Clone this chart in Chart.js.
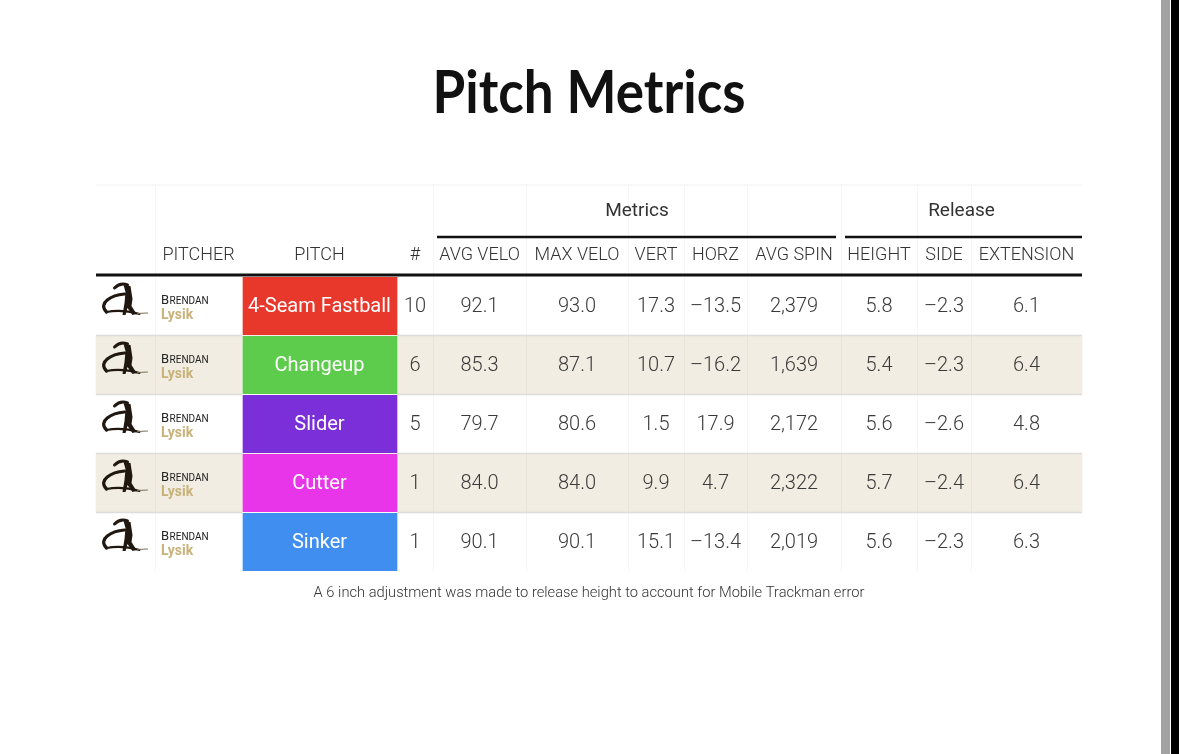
<!DOCTYPE html>
<html>
<head>
<meta charset="utf-8">
<script src="https://cdn.jsdelivr.net/npm/chart.js@4.4.1/dist/chart.umd.min.js"></script>
<style>
  html, body { margin: 0; padding: 0; background: #ffffff; overflow: hidden; }
  #wrap { width: 1179px; height: 754px; position: relative; }
  canvas { display: block; }
  #edgeDark { position: fixed; top: 0; right: 0; width: 8px; height: 100%; background: #000; }
</style>
</head>
<body>
<div id="wrap"><canvas id="c" width="1179" height="754"></canvas></div>
<div id="edgeDark"></div>
<script>
// ---------- DATA ----------
const titleText = 'Pitch Metrics';
const footnote = 'A 6 inch adjustment was made to release height to account for Mobile Trackman error';
const pitcherFirst = 'Brendan';
const pitcherLast = 'Lysik';
const pitches = ['4-Seam Fastball', 'Changeup', 'Slider', 'Cutter', 'Sinker'];
const counts = [10, 6, 5, 1, 1];
const avgVelo = [92.1, 85.3, 79.7, 84.0, 90.1];
const maxVelo = [93.0, 87.1, 80.6, 84.0, 90.1];
const vert = [17.3, 10.7, 1.5, 9.9, 15.1];
const horz = [-13.5, -16.2, 17.9, 4.7, -13.4];
const avgSpin = [2379, 1639, 2172, 2322, 2019];
const relHeight = [5.8, 5.4, 5.6, 5.7, 5.6];
const relSide = [-2.3, -2.3, -2.6, -2.4, -2.3];
const extension = [6.1, 6.4, 4.8, 6.4, 6.3];
const colHeaders = ['', 'PITCHER', 'PITCH', '#', 'AVG VELO', 'MAX VELO', 'VERT', 'HORZ', 'AVG SPIN', 'HEIGHT', 'SIDE', 'EXTENSION'];
const groupHeaders = ['Metrics', 'Release'];

// ---------- STYLE / LAYOUT ----------
const W = 1179, H = 754;
const pitchColors = ['#e8372b', '#5dcb4c', '#7b2fd8', '#e935ea', '#3f8ef0'];
const stripeColors = ['#ffffff', '#f1ede2'];
const colEdges = [96, 155, 242, 397, 433, 526, 628, 684, 747, 841, 917, 971, 1082];
const groupSpans = [[4, 8], [9, 11]];   // column index ranges for group headers
const ROW_H = 59, ROW0_CENTER = 306;     // pixel layout of body rows
const yMinUnits = -ROW0_CENTER / ROW_H;
const yMaxUnits = (H - ROW0_CENTER) / ROW_H;
const TITLE_ROW = (92 - ROW0_CENTER) / ROW_H;
const GROUP_ROW = (211 - ROW0_CENTER) / ROW_H;
const GROUP_LINE_ROW = (237 - ROW0_CENTER) / ROW_H;
const HEAD_ROW = (255 - ROW0_CENTER) / ROW_H;
const HEAD_LINE_ROW = (275 - ROW0_CENTER) / ROW_H;
const TABLE_TOP_ROW = (185 - ROW0_CENTER) / ROW_H;
const FOOT_ROW = (593 - ROW0_CENTER) / ROW_H;
const FONT = 'Roboto, "Noto Sans", sans-serif';

const numberCols = [
  { data: avgVelo, dec: 1 }, { data: maxVelo, dec: 1 }, { data: vert, dec: 1 },
  { data: horz, dec: 1 }, { data: avgSpin, dec: 0 }, { data: relHeight, dec: 1 },
  { data: relSide, dec: 1 }, { data: extension, dec: 1 }
];

function fmt(v, d) {
  const s = Math.abs(v).toLocaleString('en-US', { minimumFractionDigits: d, maximumFractionDigits: d });
  return (v < 0 ? '\u2013' : '') + s;
}

function drawLogo(ctx, cx, cy) {
  ctx.save();
  ctx.lineCap = 'round';
  ctx.lineJoin = 'round';
  ctx.strokeStyle = '#1f1710';
  ctx.fillStyle = '#1f1710';
  // head hook
  ctx.lineWidth = 3;
  ctx.beginPath();
  ctx.moveTo(cx - 7, cy - 13);
  ctx.quadraticCurveTo(cx - 1, cy - 19, cx + 6, cy - 16);
  ctx.stroke();
  // body
  ctx.beginPath();
  ctx.moveTo(cx + 2, cy - 16);
  ctx.lineTo(cx + 9, cy - 15);
  ctx.lineTo(cx + 11, cy - 2);
  ctx.lineTo(cx + 10, cy + 5);
  ctx.lineTo(cx + 15, cy + 13);
  ctx.lineTo(cx + 11, cy + 14);
  ctx.lineTo(cx + 6, cy + 7);
  ctx.lineTo(cx + 4, cy + 14);
  ctx.lineTo(cx + 1, cy + 14);
  ctx.lineTo(cx + 3, cy + 2);
  ctx.lineTo(cx + 4, cy - 9);
  ctx.closePath();
  ctx.fill();
  // swoosh
  ctx.lineWidth = 3.2;
  ctx.beginPath();
  ctx.moveTo(cx + 3, cy - 7);
  ctx.bezierCurveTo(cx - 10, cy - 6, cx - 24, cy + 2, cx - 15, cy + 11);
  ctx.stroke();
  // base line
  ctx.lineWidth = 2;
  ctx.beginPath();
  ctx.moveTo(cx - 15, cy + 11);
  ctx.quadraticCurveTo(cx, cy + 8, cx + 18, cy + 13);
  ctx.stroke();
  ctx.strokeStyle = '#7d6f55';
  ctx.lineWidth = 1.1;
  ctx.beginPath();
  ctx.moveTo(cx + 16, cy + 12.5);
  ctx.lineTo(cx + 26, cy + 12);
  ctx.stroke();
  ctx.restore();
}

const tablePlugin = {
  id: 'tablePlugin',
  beforeDatasetsDraw(chart) {
    const ctx = chart.ctx, xs = chart.scales.x, ys = chart.scales.y;
    const X = v => xs.getPixelForValue(v), Y = v => ys.getPixelForValue(v);
    ctx.save();
    ctx.strokeStyle = '#f2f2f2';
    ctx.lineWidth = 1;
    ctx.beginPath();
    ctx.moveTo(X(colEdges[0]), Y(TABLE_TOP_ROW));
    ctx.lineTo(X(colEdges[colEdges.length - 1]), Y(TABLE_TOP_ROW));
    ctx.stroke();
    ctx.restore();
  },
  afterDatasetsDraw(chart) {
    const ctx = chart.ctx, xs = chart.scales.x, ys = chart.scales.y;
    const X = v => xs.getPixelForValue(v), Y = v => ys.getPixelForValue(v);
    const left = X(colEdges[0]), right = X(colEdges[colEdges.length - 1]);
    const nRows = pitches.length;
    ctx.save();

    // faint vertical separators
    ctx.strokeStyle = 'rgba(0,0,0,0.035)';
    ctx.lineWidth = 1;
    for (let c = 1; c < colEdges.length - 1; c++) {
      if (c === 2 || c === 3) continue;
      ctx.beginPath();
      ctx.moveTo(Math.round(X(colEdges[c])) + 0.5, Y(TABLE_TOP_ROW));
      ctx.lineTo(Math.round(X(colEdges[c])) + 0.5, Y(nRows - 0.5));
      ctx.stroke();
    }

    // row separators
    ctx.strokeStyle = '#dcdcdc';
    ctx.lineWidth = 1.5;
    for (let r = 1; r < nRows; r++) {
      const y = Y(r - 0.5);
      ctx.beginPath();
      ctx.moveTo(left, y);
      ctx.lineTo(X(colEdges[2]), y);
      ctx.moveTo(X(colEdges[3]), y);
      ctx.lineTo(right, y);
      ctx.stroke();
    }

    // group header lines
    ctx.strokeStyle = '#111';
    ctx.lineWidth = 2.6;
    groupSpans.forEach((g, i) => {
      const x0 = X(colEdges[g[0]]) + 4;
      const x1 = i === groupSpans.length - 1 ? X(colEdges[g[1] + 1]) : X(colEdges[g[1] + 1]) - 5;
      ctx.beginPath();
      ctx.moveTo(x0, Y(GROUP_LINE_ROW));
      ctx.lineTo(x1, Y(GROUP_LINE_ROW));
      ctx.stroke();
    });
    ctx.lineWidth = 2.8;
    ctx.beginPath();
    ctx.moveTo(left, Y(HEAD_LINE_ROW));
    ctx.lineTo(right, Y(HEAD_LINE_ROW));
    ctx.stroke();

    // group header text
    ctx.fillStyle = '#333';
    ctx.textAlign = 'center';
    ctx.textBaseline = 'middle';
    ctx.font = '400 19px ' + FONT;
    groupSpans.forEach((g, i) => {
      const cx = (X(colEdges[g[0]]) + X(colEdges[g[1] + 1])) / 2;
      ctx.fillText(groupHeaders[i], cx, Y(GROUP_ROW));
    });

    // column headers
    ctx.font = '300 18px ' + FONT;
    ctx.fillStyle = '#333';
    colHeaders.forEach((h, c) => {
      if (!h) return;
      const cx = (X(colEdges[c]) + X(colEdges[c + 1])) / 2;
      ctx.fillText(h, cx, Y(HEAD_ROW));
    });

    // body
    for (let r = 0; r < nRows; r++) {
      const cy = Y(r);
      drawLogo(ctx, (X(colEdges[0]) + X(colEdges[1])) / 2 - 4, cy - 5);
      const px = X(colEdges[1]) + 6;
      ctx.textAlign = 'left';
      ctx.textBaseline = 'alphabetic';
      ctx.fillStyle = '#222';
      ctx.font = '400 13px ' + FONT;
      const first = pitcherFirst.charAt(0).toUpperCase();
      ctx.fillText(first, px, cy - 2.5);
      const fw = ctx.measureText(first).width;
      ctx.font = '400 10px ' + FONT;
      ctx.fillText(pitcherFirst.slice(1).toUpperCase(), px + fw + 0.5, cy - 2.5);
      ctx.font = '700 14px ' + FONT;
      ctx.fillStyle = '#c8b27a';
      ctx.fillText(pitcherLast, px, cy + 13);

      ctx.textAlign = 'center';
      ctx.textBaseline = 'middle';
      ctx.fillStyle = '#ffffff';
      ctx.font = '400 20px ' + FONT;
      ctx.fillText(pitches[r], (X(colEdges[2]) + X(colEdges[3])) / 2, cy + 1);
      ctx.fillStyle = '#3a3a3a';
      ctx.font = '300 20px ' + FONT;
      ctx.fillText(String(counts[r]), (X(colEdges[3]) + X(colEdges[4])) / 2, cy + 1);
      numberCols.forEach((col, k) => {
        const c = 4 + k;
        ctx.fillText(fmt(col.data[r], col.dec), (X(colEdges[c]) + X(colEdges[c + 1])) / 2, cy + 1);
      });
    }

    // footnote
    ctx.fillStyle = '#333';
    ctx.font = '300 14.7px ' + FONT;
    ctx.textAlign = 'center';
    ctx.textBaseline = 'middle';
    ctx.fillText(footnote, (left + right) / 2, Y(FOOT_ROW));

    ctx.restore();
  },
  afterDraw(chart) {
    const ctx = chart.ctx, xs = chart.scales.x, ys = chart.scales.y;
    const X = v => xs.getPixelForValue(v), Y = v => ys.getPixelForValue(v);
    ctx.save();
    ctx.fillStyle = '#111';
    ctx.font = '700 60px Lato, "Open Sans", sans-serif';
    ctx.textBaseline = 'alphabetic';
    ctx.textAlign = 'center';
    const tw = ctx.measureText(titleText).width;
    const target = 313;
    const sx = Math.min(1, target / tw);
    const tx = (X(colEdges[0]) + X(colEdges[colEdges.length - 1])) / 2;
    ctx.translate(tx, Y(TITLE_ROW) + 21);
    ctx.scale(sx, 1);
    ctx.fillText(titleText, 0, 0);
    ctx.restore();

    ctx.save();
    ctx.fillStyle = '#a2a2a2';
    ctx.fillRect(X(1161), 0, X(1170) - X(1161), H);
    ctx.fillStyle = '#000';
    ctx.fillRect(X(1171), 0, X(W) - X(1171) + 1, H);
    ctx.restore();
  }
};

const rowIdx = pitches.map((_, i) => i);

new Chart(document.getElementById('c'), {
  type: 'bar',
  data: {
    datasets: [
      {
        label: 'pitch',
        data: rowIdx.map(i => ({ y: i, x: [colEdges[2] + 1, colEdges[3]] })),
        backgroundColor: pitchColors,
        barThickness: ROW_H - 1.5,
        grouped: false,
        order: 1,
        borderWidth: 0
      },
      {
        label: 'stripes',
        data: rowIdx.map(i => ({ y: i, x: [colEdges[0], colEdges[colEdges.length - 1]] })),
        backgroundColor: rowIdx.map(i => stripeColors[i % 2]),
        barThickness: ROW_H,
        grouped: false,
        order: 2,
        borderWidth: 0
      }
    ]
  },
  options: {
    indexAxis: 'y',
    responsive: false,
    animation: false,
    events: [],
    layout: { padding: 0 },
    plugins: { legend: { display: false }, tooltip: { enabled: false }, title: { display: false } },
    scales: {
      x: { type: 'linear', min: 0, max: W, display: false, offset: false },
      y: { type: 'linear', min: yMinUnits, max: yMaxUnits, reverse: true, display: false, offset: false }
    }
  },
  plugins: [tablePlugin]
});
</script>
</body>
</html>
